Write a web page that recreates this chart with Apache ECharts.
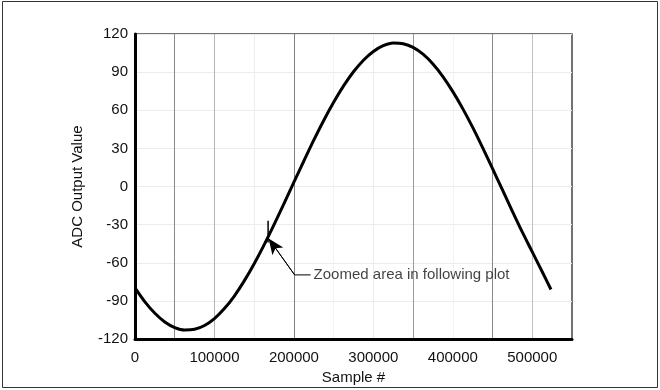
<!DOCTYPE html>
<html>
<head>
<meta charset="utf-8">
<script src="https://cdn.jsdelivr.net/npm/echarts@6/dist/echarts.min.js"></script>
<style>
html,body{margin:0;padding:0;background:#fff;}
#chart{width:660px;height:390px;}
</style>
</head>
<body>
<div id="chart"></div>
<script>
// Sample index (x) and ADC output value (y)
var sampleX = [0,12500,25000,37500,50000,62500,75000,87500,100000,112500,125000,137500,150000,162500,175000,187500,200000,212500,225000,237500,250000,262500,275000,287500,300000,312500,325000,337500,350000,362500,375000,387500,400000,412500,425000,437500,450000,462500,475000,487500,500000,512500,523500];
var adcY = [-79.7,-90.7,-99.7,-106.5,-110.9,-112.9,-112.3,-109.3,-103.9,-96.0,-86.1,-74.2,-60.7,-45.9,-30.0,-13.5,3.4,20.1,36.5,52.0,66.3,79.2,90.3,99.4,106.3,110.8,112.9,112.4,109.5,104.1,96.4,86.5,74.7,61.3,46.5,30.6,14.1,-2.7,-19.5,-35.9,-51.4,-67.0,-81];
var xTickLabels = ['0','100000','200000','300000','400000','500000'];
var yTickLabels = ['-120','-90','-60','-30','0','30','60','90','120'];
// Annotation: zoom marker (vertical tick on the curve), arrow tip, bend, leader end
var markerX = [167500, 167500];
var markerY = [-27, -44];
var arrowTip = [168100, -40.8];
var arrowBend = [200900, -69.5];
var leaderEnd = [221000, -69.5];
var annotText = 'Zoomed area in following plot';

var curve = sampleX.map(function(x,i){return [x, adcY[i]];});
var font = 'Liberation Sans, Arial, sans-serif';
var txt = '#111';
var chart = echarts.init(document.getElementById('chart'), null, {renderer:'canvas'});
chart.setOption({
  animation:false,
  backgroundColor:'#fff',
  graphic:[{type:'rect',shape:{x:2.5,y:1.5,width:655,height:386},style:{fill:'none',stroke:'#333',lineWidth:1},silent:true}],
  grid:{left:135,right:88,top:34,bottom:47,show:true,borderColor:'#444',borderWidth:1.5,backgroundColor:'transparent'},
  xAxis:{type:'value',min:0,max:550000,interval:50000,
    name:'Sample #',nameLocation:'middle',nameGap:30,
    nameTextStyle:{fontFamily:font,fontSize:15,color:txt},
    axisLine:{show:true,onZero:false,lineStyle:{color:'#000',width:3}},
    axisTick:{show:false},
    axisLabel:{fontFamily:font,fontSize:15,color:txt,margin:11,
      formatter:function(v){var s=String(v);return xTickLabels.indexOf(s)>=0?s:'';}},
    splitLine:{show:true,lineStyle:{width:1,color:['rgba(0,0,0,0)','#8a8a8a','#b4b4b4','#ededed','#808080','#f3f3f3','#ebebeb','#9a9a9a','#f3f3f3','#8a8a8a','#c2c2c2','rgba(0,0,0,0)']}}
  },
  yAxis:{type:'value',min:-120,max:120,interval:30,
    name:'ADC Output Value',nameLocation:'middle',nameGap:50,nameRotate:90,
    nameTextStyle:{fontFamily:font,fontSize:15,color:txt},
    axisLine:{show:true,onZero:false,lineStyle:{color:'#000',width:3}},
    axisTick:{show:false},
    axisLabel:{fontFamily:font,fontSize:15,color:txt,margin:7,
      formatter:function(v){var s=String(v);return yTickLabels.indexOf(s)>=0?s:'';}},
    splitLine:{show:true,lineStyle:{width:1,color:'#ececec'}}
  },
  series:[
    {type:'line',data:curve,smooth:0.3,showSymbol:false,lineStyle:{color:'#000',width:3},z:5},
    {type:'line',data:[[markerX[0],markerY[0]],[markerX[1],markerY[1]]],showSymbol:false,lineStyle:{color:'#000',width:1.5},z:6},
    {type:'line',data:[arrowBend,arrowTip],showSymbol:false,lineStyle:{color:'#000',width:1},z:6},
    {type:'line',data:[arrowBend,leaderEnd],showSymbol:false,lineStyle:{color:'#000',width:1},z:6},
    {type:'scatter',data:[leaderEnd],symbolSize:0,z:7,
      label:{show:true,position:'right',distance:3,formatter:annotText,fontFamily:font,fontSize:15,color:txt},
      markLine:{silent:true,symbol:['none','arrow'],symbolSize:[10,16],lineStyle:{color:'#000',width:1,type:'solid'},label:{show:false},
        data:[[{coord:arrowBend},{coord:arrowTip}]]}}
  ]
});
</script>
</body>
</html>
